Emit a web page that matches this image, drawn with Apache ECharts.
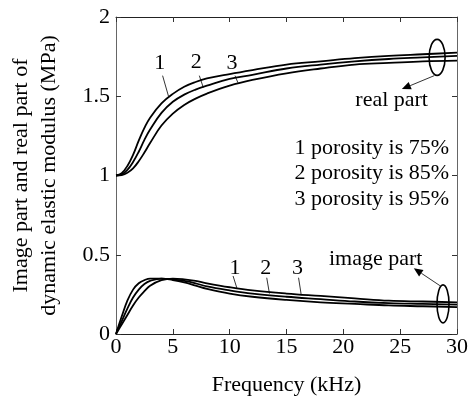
<!DOCTYPE html>
<html>
<head>
<meta charset="utf-8">
<script src="https://cdn.jsdelivr.net/npm/echarts@6/dist/echarts.min.js"></script>
<style>
  html, body { margin: 0; padding: 0; background: #fff; }
  #chart { width: 471px; height: 401px; }
</style>
</head>
<body>
<div id="chart"></div>
<script>
// frequency samples (kHz)
const freq = [0, 0.5, 1, 1.5, 2, 2.5, 3, 4, 5, 6, 7, 8, 10, 12, 15, 18, 21, 24, 27, 30];

// real part, curves 1..3
const real1 = [1.0, 1.015, 1.06, 1.13, 1.22, 1.30, 1.365, 1.455, 1.515, 1.56, 1.59, 1.612, 1.64, 1.665, 1.70, 1.72, 1.74, 1.755, 1.765, 1.775];
const real2 = [1.0, 1.007, 1.035, 1.085, 1.15, 1.225, 1.29, 1.395, 1.465, 1.51, 1.542, 1.567, 1.61, 1.635, 1.675, 1.70, 1.72, 1.735, 1.745, 1.755];
const real3 = [1.0, 1.003, 1.017, 1.045, 1.09, 1.145, 1.205, 1.315, 1.39, 1.445, 1.485, 1.517, 1.567, 1.603, 1.645, 1.675, 1.70, 1.71, 1.72, 1.725];

// image part, curves 1..3
const imag1 = [0, 0.11, 0.21, 0.28, 0.32, 0.34, 0.35, 0.35, 0.34, 0.325, 0.305, 0.285, 0.255, 0.235, 0.215, 0.20, 0.19, 0.18, 0.175, 0.17];
const imag2 = [0, 0.08, 0.16, 0.23, 0.28, 0.315, 0.335, 0.35, 0.345, 0.335, 0.32, 0.30, 0.275, 0.255, 0.235, 0.22, 0.205, 0.195, 0.19, 0.185];
const imag3 = [0, 0.06, 0.12, 0.18, 0.23, 0.27, 0.305, 0.34, 0.35, 0.345, 0.335, 0.32, 0.295, 0.275, 0.255, 0.24, 0.225, 0.21, 0.205, 0.20];

const xTicks = [0, 5, 10, 15, 20, 25, 30];
const yTicks = [0, 0.5, 1, 1.5, 2];

const legendLines = ["1 porosity is 75%", "2 porosity is 85%", "3 porosity is 95%"];

const serif = "Liberation Serif";
const black = "#000";

const chart = echarts.init(document.getElementById("chart"));

function curve(values) {
  return {
    type: "line",
    data: freq.map((f, i) => [f, values[i]]),
    smooth: 0.4,
    symbol: "none",
    lineStyle: { color: black, width: 1.8 },
    z: 3,
  };
}

const tickCommon = { show: true, inside: true, length: 5, lineStyle: { color: "#333" } };

chart.setOption({
  animation: false,
  backgroundColor: "#fff",
  grid: { left: 116, right: 10, top: 17, bottom: 67 },
  xAxis: [
    {
      type: "value",
      min: 0,
      max: 30,
      interval: 5,
      axisLine: { lineStyle: { color: "#222", width: 1 } },
      axisTick: tickCommon,
      splitLine: { show: false },
      axisLabel: {
        color: black,
        fontFamily: serif,
        fontSize: 22,
        margin: 2,
        formatter: (v) => (xTicks.includes(v) ? String(v) : ""),
      },
      name: "Frequency (kHz)",
      nameLocation: "middle",
      nameGap: 40,
      nameTextStyle: { color: black, fontFamily: serif, fontSize: 22 },
    },
    {
      type: "value",
      position: "top",
      min: 0,
      max: 30,
      interval: 5,
      axisLine: { show: true, onZero: false, lineStyle: { color: "#222" } },
      axisTick: tickCommon,
      axisLabel: { show: false },
      splitLine: { show: false },
    },
  ],
  yAxis: [
    {
      type: "value",
      min: 0,
      max: 2,
      interval: 0.5,
      axisLine: { show: true, lineStyle: { color: "#666", width: 1 } },
      axisTick: tickCommon,
      splitLine: { show: false },
      axisLabel: {
        color: black,
        fontFamily: serif,
        fontSize: 22,
        margin: 6,
        formatter: (v) => (yTicks.includes(v) ? String(v) : ""),
      },
    },
    {
      type: "value",
      position: "right",
      min: 0,
      max: 2,
      interval: 0.5,
      axisLine: { show: true, onZero: false, lineStyle: { color: "#666" } },
      axisTick: tickCommon,
      axisLabel: { show: false },
      splitLine: { show: false },
    },
  ],
  series: [curve(real1), curve(real2), curve(real3), curve(imag1), curve(imag2), curve(imag3)],
});

// annotations, anchored in data coordinates
function px(f, v) {
  return chart.convertToPixel({ gridIndex: 0 }, [f, v]);
}

function text(str, f, v, size, align) {
  const p = px(f, v);
  return {
    type: "text",
    x: p[0],
    y: p[1],
    style: {
      text: str,
      fill: black,
      font: size + "px " + serif,
      align: align || "center",
      verticalAlign: "middle",
    },
    z: 10,
  };
}

function seg(a, b, width) {
  const p = px(a[0], a[1]);
  const q = px(b[0], b[1]);
  return {
    type: "line",
    shape: { x1: p[0], y1: p[1], x2: q[0], y2: q[1] },
    style: { stroke: black, lineWidth: width || 0.8 },
    z: 10,
  };
}

function arrow(from, to) {
  const p = px(from[0], from[1]);
  const q = px(to[0], to[1]);
  const ang = Math.atan2(q[1] - p[1], q[0] - p[0]);
  const len = 9, half = 4;
  const bx = q[0] - len * Math.cos(ang), by = q[1] - len * Math.sin(ang);
  const nx = -Math.sin(ang) * half, ny = Math.cos(ang) * half;
  return [
    {
      type: "line",
      shape: { x1: p[0], y1: p[1], x2: bx, y2: by },
      style: { stroke: "#333", lineWidth: 1 },
      z: 10,
    },
    {
      type: "polygon",
      shape: { points: [[q[0], q[1]], [bx + nx, by + ny], [bx - nx, by - ny]] },
      style: { fill: black },
      z: 10,
    },
  ];
}

function ellipse(f, v, rx, ry) {
  const p = px(f, v);
  return {
    type: "ellipse",
    shape: { cx: p[0], cy: p[1], rx: rx, ry: ry },
    style: { fill: "none", stroke: black, lineWidth: 1.6 },
    z: 11,
  };
}

const graphics = [
  // real part curve labels
  text("1", 3.84, 1.71, 22),
  text("2", 7.07, 1.716, 22),
  text("3", 10.2, 1.71, 22),
  seg([4.1, 1.63], [4.62, 1.5]),
  seg([7.33, 1.63], [7.68, 1.555]),
  seg([10.47, 1.63], [10.73, 1.585]),
  // image part curve labels
  text("1", 10.47, 0.416, 22),
  text("2", 13.18, 0.416, 22),
  text("3", 15.97, 0.416, 22),
  seg([10.3, 0.366], [10.65, 0.286]),
  seg([13.26, 0.355], [13.5, 0.255]),
  seg([16.06, 0.355], [16.3, 0.245]),
  // ellipses and arrows
  ellipse(28.25, 1.745, 8, 18),
  ellipse(28.77, 0.19, 6, 19),
  ...arrow([28.0, 1.63], [25.15, 1.545]),
  ...arrow([28.5, 0.305], [26.2, 0.415]),
  text("real part", 24.25, 1.476, 22),
  text("image part", 22.85, 0.47, 22),
];

legendLines.forEach((line, i) => {
  graphics.push(text(line, 29.3, 1.174 - i * 0.161, 22, "right"));
});

// y-axis title, two rotated lines
const yMid = (17 + 334) / 2;
["Image part and real part of", "dynamic elastic modulus (MPa)"].forEach((line, i) => {
  graphics.push({
    type: "text",
    x: 21 + i * 28,
    y: yMid,
    rotation: Math.PI / 2,
    style: {
      text: line,
      fill: black,
      font: "22px " + serif,
      align: "center",
      verticalAlign: "middle",
    },
  });
});

chart.setOption({ graphic: graphics });
</script>
</body>
</html>
